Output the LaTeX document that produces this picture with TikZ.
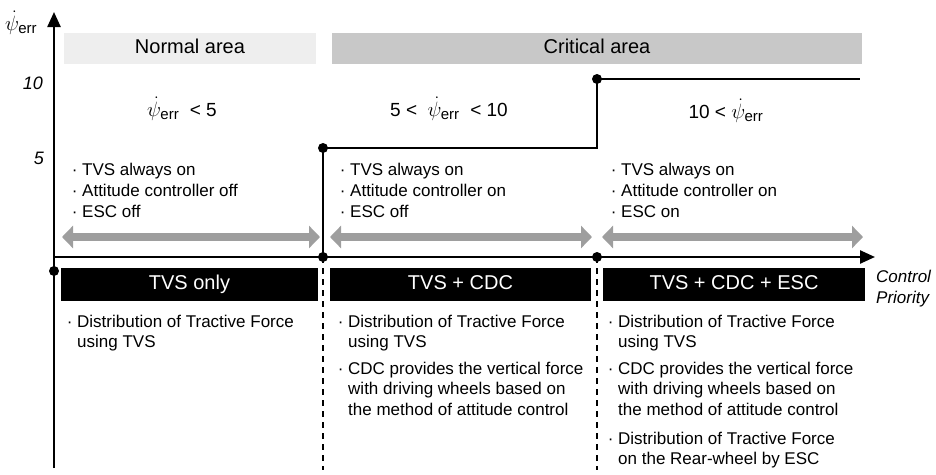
\documentclass[tikz,border=0pt]{standalone}
\usepackage{fontspec}
\setmainfont{Liberation Sans}
\usetikzlibrary{arrows.meta}
\definecolor{bandlight}{HTML}{EEEEEE}
\definecolor{banddark}{HTML}{C8C8C8}
\definecolor{arrowgray}{HTML}{9E9E9E}
\newcommand{\psierr}{{\fontsize{22}{22}\selectfont$\dot{\psi}_{\mbox{\fontsize{15}{15}\selectfont err}}$}}
\newcommand{\lst}[1]{\begin{tabular}[t]{@{}l@{}}#1\end{tabular}}
\begin{document}
\begin{tikzpicture}[x=1pt,y=-1pt,
  dot/.style={circle,fill=black,inner sep=0pt,minimum size=10pt},
  axisline/.style={line width=2.4pt,-{Triangle[length=15pt,width=13pt]}},
  stepline/.style={line width=2pt},
  dashline/.style={line width=1.5pt,dash pattern=on 6pt off 5pt},
  band/.style={inner sep=0pt,minimum height=31pt,text height=14.5pt,text depth=4pt,font=\fontsize{20}{24}\selectfont},
  blackbox/.style={fill=black,text=white,inner sep=0pt,minimum height=33pt,text height=14pt,text depth=4pt,font=\fontsize{20}{24}\selectfont},
  txt/.style={inner sep=0pt,anchor=base west,font=\fontsize{17}{21}\selectfont},
  txtb/.style={inner sep=0pt,anchor=base west,font=\fontsize{17}{20.5}\selectfont},
  cond/.style={inner sep=0pt,anchor=base,font=\fontsize{19}{22}\selectfont},
  tick/.style={inner sep=0pt,anchor=base east,font=\fontsize{18}{22}\selectfont\itshape},
  garrow/.style={line width=8pt,draw=arrowgray,{Triangle[length=11pt,width=22pt]}-{Triangle[length=11pt,width=22pt]}},
]
\path[use as bounding box] (0,0) rectangle (936,474);

% bands
\node[band,fill=bandlight,minimum width=252pt] (normal) at (190,48.5) {Normal area};
\node[band,fill=banddark,minimum width=530pt] (critical) at (597,48.5) {Critical area};

% axes
\coordinate (ybot) at (54,468);
\coordinate (ytop) at (54,12);
\coordinate (xorg) at (54,257);
\coordinate (xend) at (875,257);
\draw[axisline] (ybot) -- (ytop);
\draw[axisline] (xorg) -- (xend);
\node[inner sep=0pt,anchor=base west] (ylab) at (5,30) {\psierr};
\node[tick] (t10) at (43,89) {10};
\node[tick] (t5) at (44,164) {5};
\node[inner sep=0pt,anchor=base west,font=\fontsize{17}{21}\selectfont\itshape] (xlab) at (876,282) {\lst{Control\\Priority}};

% dots
\node[dot] (d0) at (54,271) {};
\node[dot] (d1) at (323,257) {};
\node[dot] (d2) at (597,257) {};
\node[dot] (d5) at (323,148) {};
\node[dot] (d10) at (597,79) {};
\coordinate (k1) at (597,148);
\coordinate (e10) at (860,79);
\coordinate (b1) at (323,470);
\coordinate (b2) at (597,470);

% step line
\draw[stepline] (d1.center) -- (d5.center) -- (k1) -- (d10.center);
\draw[line width=1.5pt] (d10.center) -- (e10);
\draw[dashline] (d1.center) -- (b1);
\draw[dashline] (d2.center) -- (b2);

% conditions
\node[cond] (c1) at (182,116) {\psierr\ \ < 5};
\node[cond] (c2) at (449,116) {5 <\ \ \psierr\ \ < 10};
\node[cond] (c3) at (726,118) {10 < \psierr};

% top bullet lists
\node[txt] (s1) at (82,175) {\lst{\llap{·\ }TVS always on\\\llap{·\ }Attitude controller off\\\llap{·\ }ESC off}};
\node[txt] (s2) at (350,175) {\lst{\llap{·\ }TVS always on\\\llap{·\ }Attitude controller on\\\llap{·\ }ESC off}};
\node[txt] (s3) at (621,175) {\lst{\llap{·\ }TVS always on\\\llap{·\ }Attitude controller on\\\llap{·\ }ESC on}};

% gray arrows
\coordinate (g1a) at (62,237); \coordinate (g1b) at (320,237);
\coordinate (g2a) at (330,237); \coordinate (g2b) at (592,237);
\coordinate (g3a) at (602,237); \coordinate (g3b) at (863,237);
\draw[garrow] (g1a) -- (g1b);
\draw[garrow] (g2a) -- (g2b);
\draw[garrow] (g3a) -- (g3b);

% black boxes
\node[blackbox,minimum width=257pt] (m1) at (189.5,284.5) {TVS only};
\node[blackbox,minimum width=261pt] (m2) at (460.5,284.5) {TVS + CDC};
\node[blackbox,minimum width=262pt] (m3) at (734,284.5) {TVS + CDC + ESC};

% bottom descriptions
\node[txtb] (p1a) at (77,327) {\lst{\llap{·\ }Distribution of Tractive Force\\using TVS}};
\node[txtb] (p2a) at (348,327) {\lst{\llap{·\ }Distribution of Tractive Force\\using TVS}};
\node[txtb] (p2b) at (348,374) {\lst{\llap{·\ }CDC provides the vertical force\\with driving wheels based on\\the method of attitude control}};
\node[txtb] (p3a) at (618,327) {\lst{\llap{·\ }Distribution of Tractive Force\\using TVS}};
\node[txtb] (p3b) at (618,374) {\lst{\llap{·\ }CDC provides the vertical force\\with driving wheels based on\\the method of attitude control}};
\node[txtb] (p3c) at (618,444) {\lst{\llap{·\ }Distribution of Tractive Force\\on the Rear-wheel by ESC}};
\end{tikzpicture}
\end{document}
